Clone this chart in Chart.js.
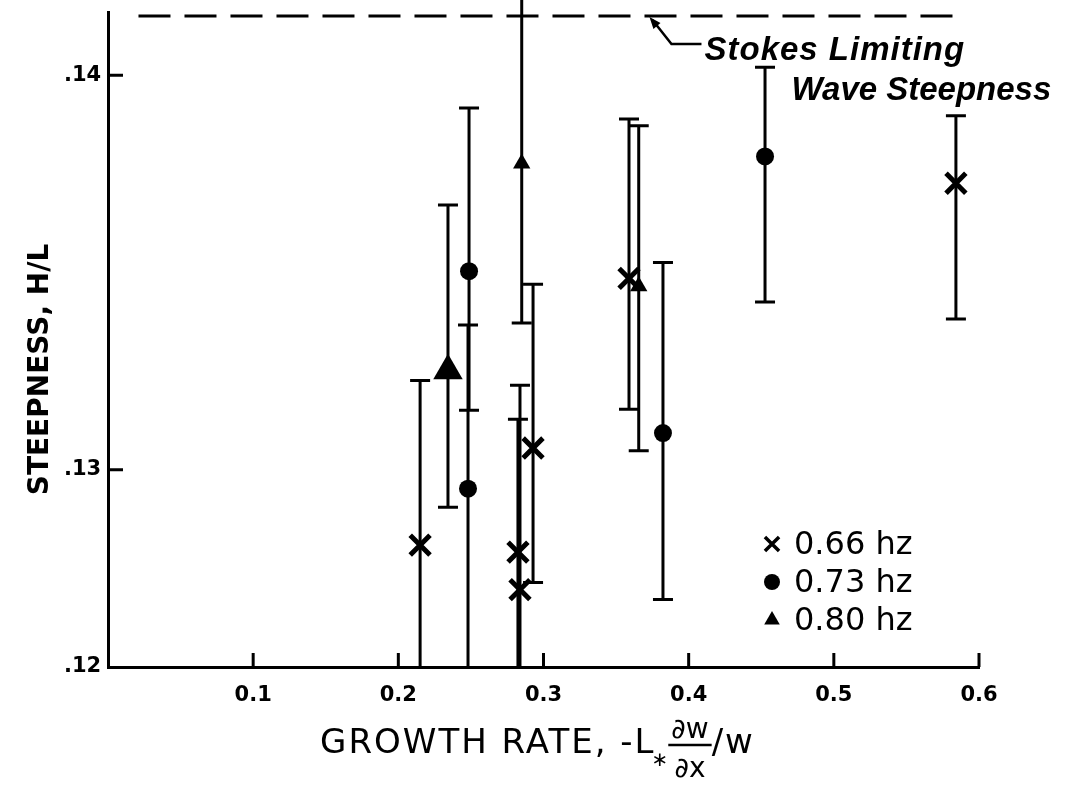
<!DOCTYPE html>
<html>
<head>
<meta charset="utf-8">
<script src="https://cdn.jsdelivr.net/npm/chart.js@4.4.1/dist/chart.umd.min.js"></script>
<style>
  html, body { margin: 0; padding: 0; background: #fff; }
  #wrap { width: 1070px; height: 790px; }
</style>
</head>
<body>
<div id="wrap"><canvas id="steep"></canvas></div>
<script>
// growth rate (x), steepness H/L (y) and error bar ends, one set per frequency
const series = ["0.66 hz", "0.73 hz", "0.80 hz"];

const x066 = [0.2150, 0.2824, 0.2838, 0.2928, 0.3589, 0.5841];
const y066 = [0.12809, 0.12791, 0.12696, 0.13055, 0.13485, 0.13726];
const hi066 = [0.13226, 0.13128, 0.13214, 0.13470, 0.13889, 0.13897];
const lo066 = [0.1240, 0.1240, 0.1240, 0.12714, 0.13153, 0.13382];

const x073 = [0.2480, 0.2487, 0.3823, 0.4526];
const y073 = [0.12952, 0.13503, 0.13093, 0.13794];
const hi073 = [0.13367, 0.13917, 0.13525, 0.14020];
const lo073 = [0.1240, 0.13151, 0.12671, 0.13425];

const x080 = [0.2342, 0.2850, 0.3656];
const y080 = [0.13251, 0.13776, 0.13465];
const hi080 = [0.13671, 0.1430, 0.13872];
const lo080 = [0.12905, 0.13372, 0.13048];

// Stokes limiting wave steepness (dashed line at the top)
const stokesY = 0.1415;
const stokesFrom = 0.021;
const stokesTo = 0.589;
const stokesArrowX = 0.373;
const stokesText = ["Stokes Limiting", "Wave Steepness"];

const xTicks = [0.1, 0.2, 0.3, 0.4, 0.5, 0.6];
const xTickLabels = ["0.1", "0.2", "0.3", "0.4", "0.5", "0.6"];
const yTicks = [0.125, 0.13, 0.14];
const yTickLabels = [".12", ".13", ".14"];

const xTitle = ["GROWTH RATE, -L", "\u2217", "\u2202w", "\u2202x", "/w"];
const yTitle = "STEEPNESS, H/L";

const pts = (xs, ys) => xs.map((x, i) => ({x: x, y: ys[i]}));
const bars = [
  {xs: x066, lo: lo066, hi: hi066},
  {xs: x073, lo: lo073, hi: hi073},
  {xs: x080, lo: lo080, hi: hi080}
];
const markers = [
  {pointStyle: 'crossRot', radius: 10, borderWidth: 3.5},
  {pointStyle: 'circle', radius: 8, borderWidth: 0},
  {pointStyle: 'triangle', radius: 9, borderWidth: 0}
];
const FONT = '"DejaVu Sans", sans-serif';

// vertical error bars with caps, drawn under the markers
const errorBars = {
  id: 'errorBars',
  beforeDatasetsDraw(chart) {
    const {ctx, chartArea: a} = chart;
    const xs = chart.scales.x, ys = chart.scales.y;
    ctx.save();
    ctx.beginPath();
    ctx.rect(a.left, 0, a.right - a.left, a.bottom);
    ctx.clip();
    ctx.strokeStyle = '#000';
    ctx.lineWidth = 3;
    bars.forEach(b => {
      b.xs.forEach((v, i) => {
        const px = xs.getPixelForValue(v);
        const top = ys.getPixelForValue(b.hi[i]);
        const bot = ys.getPixelForValue(b.lo[i]);
        ctx.beginPath();
        ctx.moveTo(px, top); ctx.lineTo(px, bot);
        ctx.moveTo(px - 10, top); ctx.lineTo(px + 10, top);
        ctx.moveTo(px - 10, bot); ctx.lineTo(px + 10, bot);
        ctx.stroke();
      });
    });
    ctx.restore();
  }
};

// inside tick marks, titles, legend and the Stokes note
const extras = {
  id: 'extras',
  afterDraw(chart) {
    const {ctx, chartArea: a} = chart;
    const xs = chart.scales.x, ys = chart.scales.y;
    ctx.save();
    ctx.strokeStyle = '#000';
    ctx.fillStyle = '#000';
    ctx.lineWidth = 3;

    // ticks pointing into the plot
    ctx.beginPath();
    xTicks.forEach(v => {
      const px = xs.getPixelForValue(v);
      ctx.moveTo(px, a.bottom); ctx.lineTo(px, a.bottom - 14);
    });
    yTicks.slice(1).forEach(v => {
      const py = ys.getPixelForValue(v);
      ctx.moveTo(a.left, py); ctx.lineTo(a.left + 15, py);
    });
    ctx.stroke();

    // y title
    ctx.save();
    ctx.translate(41, (a.top + a.bottom) / 2 + 30);
    ctx.rotate(-Math.PI / 2);
    ctx.font = 'bold 28px ' + FONT;
    ctx.textAlign = 'center';
    ctx.textBaseline = 'middle';
    ctx.fillText(yTitle, 0, 0);
    ctx.restore();

    // x title with the fraction
    const base = 753;
    ctx.textBaseline = 'alphabetic';
    ctx.textAlign = 'left';
    ctx.letterSpacing = '2px';
    ctx.font = '34px ' + FONT;
    const wMain = ctx.measureText(xTitle[0]).width;
    const wTail = ctx.measureText(xTitle[4]).width;
    ctx.letterSpacing = '0px';
    ctx.font = '20px ' + FONT;
    const wStar = ctx.measureText(xTitle[1]).width - 4;
    ctx.font = '28px ' + FONT;
    const wFrac = Math.max(ctx.measureText(xTitle[2]).width, ctx.measureText(xTitle[3]).width) + 6;
    const total = wMain + wStar + wFrac + wTail;
    let cx = (a.left + a.right) / 2 - 6 - total / 2;
    ctx.letterSpacing = '2px';
    ctx.font = '34px ' + FONT;
    ctx.fillText(xTitle[0], cx, base);
    ctx.letterSpacing = '0px';
    cx += wMain;
    ctx.font = '20px ' + FONT;
    ctx.fillText(xTitle[1], cx - 4, base + 13);
    cx += wStar;
    ctx.font = '28px ' + FONT;
    ctx.textAlign = 'center';
    ctx.fillText(xTitle[2], cx + wFrac / 2, base - 15);
    ctx.fillText(xTitle[3], cx + wFrac / 2, base + 24);
    ctx.lineWidth = 2.5;
    ctx.beginPath();
    ctx.moveTo(cx, base - 8); ctx.lineTo(cx + wFrac, base - 8);
    ctx.stroke();
    cx += wFrac;
    ctx.textAlign = 'left';
    ctx.letterSpacing = '2px';
    ctx.font = '34px ' + FONT;
    ctx.fillText(xTitle[4], cx, base);
    ctx.letterSpacing = '0px';

    // legend
    const lx = a.right - 207;
    ctx.font = '32px ' + FONT;
    ctx.textBaseline = 'middle';
    series.forEach((name, i) => {
      const ly = a.bottom - 123 + i * 38;
      const m = markers[i];
      ctx.lineWidth = m.borderWidth;
      ctx.beginPath();
      Chart.helpers.drawPoint(ctx, {pointStyle: m.pointStyle, radius: m.radius, borderWidth: m.borderWidth, rotation: 0}, lx, ly);
      ctx.fillText(name, lx + 22, ly + 2);
    });

    // Stokes note with a leader arrow
    const tx = xs.getPixelForValue(stokesArrowX);
    const ty = ys.getPixelForValue(stokesY);
    ctx.lineWidth = 2.5;
    ctx.beginPath();
    ctx.moveTo(tx + 3, ty + 4);
    ctx.lineTo(tx + 22, ty + 28);
    ctx.lineTo(tx + 52, ty + 28);
    ctx.stroke();
    ctx.beginPath();
    ctx.moveTo(tx, ty + 1);
    ctx.lineTo(tx + 11, ty + 7);
    ctx.lineTo(tx + 4, ty + 13);
    ctx.closePath();
    ctx.fill();
    ctx.font = 'italic bold 33px "Liberation Sans", sans-serif';
    ctx.textBaseline = 'alphabetic';
    ctx.letterSpacing = '1px';
    ctx.fillText(stokesText[0], tx + 55, ty + 44);
    ctx.letterSpacing = '0px';
    ctx.fillText(stokesText[1], tx + 142, ty + 84);
    ctx.restore();
  }
};

new Chart(document.getElementById('steep'), {
  type: 'scatter',
  data: {
    datasets: [{
      label: series[0],
      data: pts(x066, y066),
      pointStyle: 'crossRot',
      radius: 14,
      borderWidth: 5,
      borderColor: '#000',
      backgroundColor: '#000'
    }, {
      label: series[1],
      data: pts(x073, y073),
      pointStyle: 'circle',
      radius: 9,
      borderWidth: 0,
      backgroundColor: '#000'
    }, {
      label: series[2],
      data: pts(x080, y080),
      pointStyle: 'triangle',
      radius: ctx => ctx.dataIndex === 0 ? 17 : 10,
      borderWidth: 0,
      backgroundColor: '#000'
    }, {
      label: 'Stokes',
      data: [{x: stokesFrom, y: stokesY}, {x: stokesTo, y: stokesY}],
      showLine: true,
      borderColor: '#000',
      borderWidth: 3,
      borderDash: [32, 14],
      pointRadius: 0
    }]
  },
  options: {
    responsive: true,
    maintainAspectRatio: false,
    animation: false,
    events: [],
    layout: { autoPadding: false, padding: {top: 12, right: 91, bottom: 0, left: 64} },
    plugins: {
      legend: { display: false },
      tooltip: { enabled: false }
    },
    scales: {
      x: {
        type: 'linear',
        min: 0,
        max: 0.6,
        afterBuildTicks: s => { s.ticks = xTicks.map(v => ({value: v})); },
        afterFit: s => { s.height = 123; },
        ticks: {
          callback: (v, i) => xTickLabels[i],
          color: '#000',
          font: {family: 'DejaVu Sans', size: 21, weight: 'bold'},
          padding: 16,
          maxRotation: 0,
          autoSkip: false
        },
        grid: { display: false, drawTicks: false },
        border: { display: true, color: '#000', width: 3 }
      },
      y: {
        type: 'linear',
        min: 0.125,
        max: 0.1416,
        afterBuildTicks: s => { s.ticks = yTicks.map(v => ({value: v})); },
        afterFit: s => { s.width = 44; },
        ticks: {
          callback: (v, i) => yTickLabels[i],
          color: '#000',
          font: {family: 'DejaVu Sans', size: 21, weight: 'bold', lineHeight: 0.8},
          padding: 0,
          crossAlign: 'far'
        },
        grid: { display: false, drawTicks: false },
        border: { display: true, color: '#000', width: 3 }
      }
    }
  },
  plugins: [errorBars, extras]
});
</script>
</body>
</html>
